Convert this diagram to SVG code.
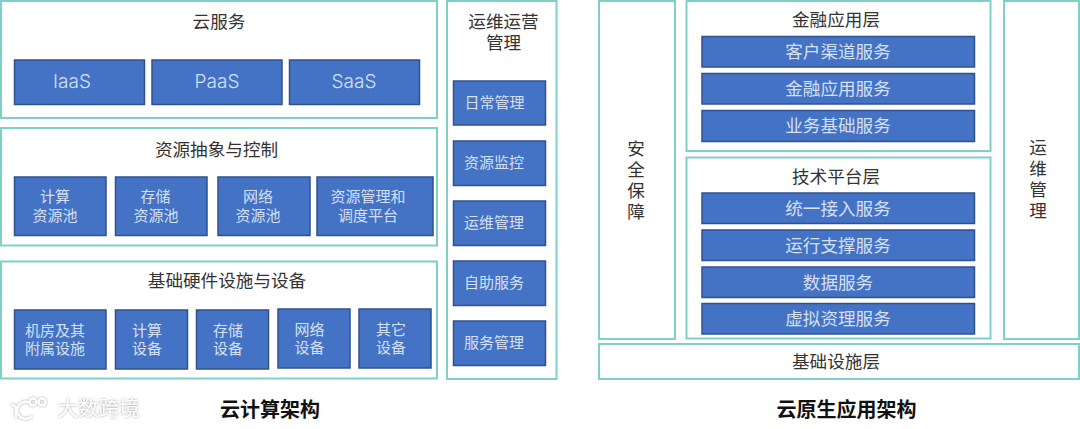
<svg xmlns="http://www.w3.org/2000/svg" width="1080" height="429" viewBox="0 0 1080 429">
<style>
.p{fill:#fff;stroke:#7fd0c8;stroke-width:2}
.b{fill:#4472c4;stroke:#2f528f;stroke-width:1.5}
text{font-family:"Noto Sans CJK SC","Noto Sans",sans-serif;text-anchor:middle}
.t{font-size:17.600px;fill:#333}
.w{font-size:15px;fill:#d5e0f3}
.l{font-size:17.600px;fill:#d5e0f3}
.e{font-size:19px;font-weight:300;fill:#d5e0f3;font-family:"Inter","Liberation Sans",sans-serif}
.h{font-size:20px;font-weight:700;fill:#111}
.m{font-size:20.500px;fill:#fff}
</style>
<defs><filter id="halo" x="-10%" y="-30%" width="120%" height="160%"><feDropShadow dx="0" dy="0" stdDeviation="1" flood-color="#999"/></filter></defs>
<rect width="1080" height="429" fill="#fff"/>
<g id="connectors"></g>
<g id="cloud-service"><rect class="p" x="1" y="1" width="436" height="117"/><text class="t" x="219" y="28">云服务</text>
<rect class="b" x="14.500" y="60" width="130" height="44.500"/><text class="e" x="72" y="88">IaaS</text>
<rect class="b" x="152" y="60" width="130" height="44.500"/><text class="e" x="217" y="88">PaaS</text>
<rect class="b" x="289.500" y="60" width="130" height="44.500"/><text class="e" x="354" y="88">SaaS</text></g>
<g id="resource-abstraction"><rect class="p" x="1" y="128" width="436" height="117.500"/><text class="t" x="216.500" y="155.500">资源抽象与控制</text>
<rect class="b" x="14.500" y="177" width="91.500" height="58.500"/><text class="w" x="55" y="202">计算<tspan x="55" y="221">资源池</tspan></text>
<rect class="b" x="115.500" y="177" width="91.500" height="58.500"/><text class="w" x="155.500" y="202">存储<tspan x="156" y="221">资源池</tspan></text>
<rect class="b" x="218" y="177" width="92" height="58.500"/><text class="w" x="258" y="202">网络<tspan x="258" y="221">资源池</tspan></text>
<rect class="b" x="317" y="177" width="116" height="58.500"/><text class="w" x="368" y="202">资源管理和<tspan x="368" y="221">调度平台</tspan></text></g>
<g id="hardware"><rect class="p" x="1" y="261.500" width="436" height="117"/><text class="t" x="227" y="286.500">基础硬件设施与设备</text>
<rect class="b" x="14.500" y="310" width="91.500" height="59"/><text class="w" x="55" y="336">机房及其<tspan x="55" y="354">附属设施</tspan></text>
<rect class="b" x="115.500" y="310" width="72" height="59"/><text class="w" x="147" y="336">计算<tspan x="147" y="354">设备</tspan></text>
<rect class="b" x="196.500" y="310" width="72" height="59"/><text class="w" x="228" y="336">存储<tspan x="228" y="354">设备</tspan></text>
<rect class="b" x="278" y="309" width="72" height="59"/><text class="w" x="309.500" y="335">网络<tspan x="309.500" y="353">设备</tspan></text>
<rect class="b" x="359" y="309" width="72" height="59"/><text class="w" x="391" y="335">其它<tspan x="391" y="353">设备</tspan></text></g>
<g id="ops-left"><rect class="p" x="447" y="1" width="109.500" height="378"/><text class="t" x="503.500" y="27.500">运维运营<tspan x="503.500" y="49">管理</tspan></text>
<rect class="b" x="453.500" y="81" width="92" height="44"/><text class="w" x="494.500" y="108">日常管理</text>
<rect class="b" x="453.500" y="141" width="92" height="44.500"/><text class="w" x="494" y="168">资源监控</text>
<rect class="b" x="453.500" y="201" width="92" height="44.500"/><text class="w" x="494" y="228">运维管理</text>
<rect class="b" x="453.500" y="261" width="92" height="44.500"/><text class="w" x="494" y="288">自助服务</text>
<rect class="b" x="453.500" y="321" width="92" height="44.500"/><text class="w" x="494" y="348">服务管理</text></g>
<g id="security"><rect class="p" x="599" y="1" width="76" height="338"/><text class="t" x="636" y="154.500">安<tspan x="636" y="175.500">全</tspan><tspan x="636" y="196.500">保</tspan><tspan x="636" y="217.500">障</tspan></text></g>
<g id="fin-app"><rect class="p" x="686.500" y="1" width="304" height="150"/><text class="t" x="836" y="25.500">金融应用层</text>
<rect class="b" x="702" y="36.500" width="272.500" height="30.500"/><text class="l" x="838" y="58">客户渠道服务</text>
<rect class="b" x="702" y="73.500" width="272.500" height="30.500"/><text class="l" x="838" y="95">金融应用服务</text>
<rect class="b" x="702" y="110.500" width="272.500" height="31"/><text class="l" x="838" y="132">业务基础服务</text></g>
<g id="tech-platform"><rect class="p" x="686.500" y="157.500" width="304" height="181"/><text class="t" x="836" y="183">技术平台层</text>
<rect class="b" x="702" y="193" width="272.500" height="30.500"/><text class="l" x="838" y="215">统一接入服务</text>
<rect class="b" x="702" y="230" width="272.500" height="30.500"/><text class="l" x="838" y="252">运行支撑服务</text>
<rect class="b" x="702" y="267" width="272.500" height="30.500"/><text class="l" x="838" y="289">数据服务</text>
<rect class="b" x="702" y="303.500" width="272.500" height="30.500"/><text class="l" x="838" y="325">虚拟资理服务</text></g>
<g id="ops-right"><rect class="p" x="1004" y="1" width="75" height="338"/><text class="t" x="1038" y="153.500">运<tspan x="1038" y="174.500">维</tspan><tspan x="1038" y="195.500">管</tspan><tspan x="1038" y="216.500">理</tspan></text></g>
<g id="infra"><rect class="p" x="599" y="344" width="480" height="35"/><text class="t" x="836" y="368">基础设施层</text></g>
<text class="h" x="270" y="417">云计算架构</text>
<text class="h" x="846.500" y="417">云原生应用架构</text>
<g id="watermark" filter="url(#halo)"><g fill="none" stroke="#fff" stroke-width="2.500"><path d="M11 404l5 3v11"/><path d="M30 403a8.500 8.500 0 1 0 2 13"/><circle cx="33" cy="402" r="3.500"/><circle cx="42" cy="402" r="3.500"/></g><text class="m" x="98.500" y="416">大数跨境</text></g>
</svg>
